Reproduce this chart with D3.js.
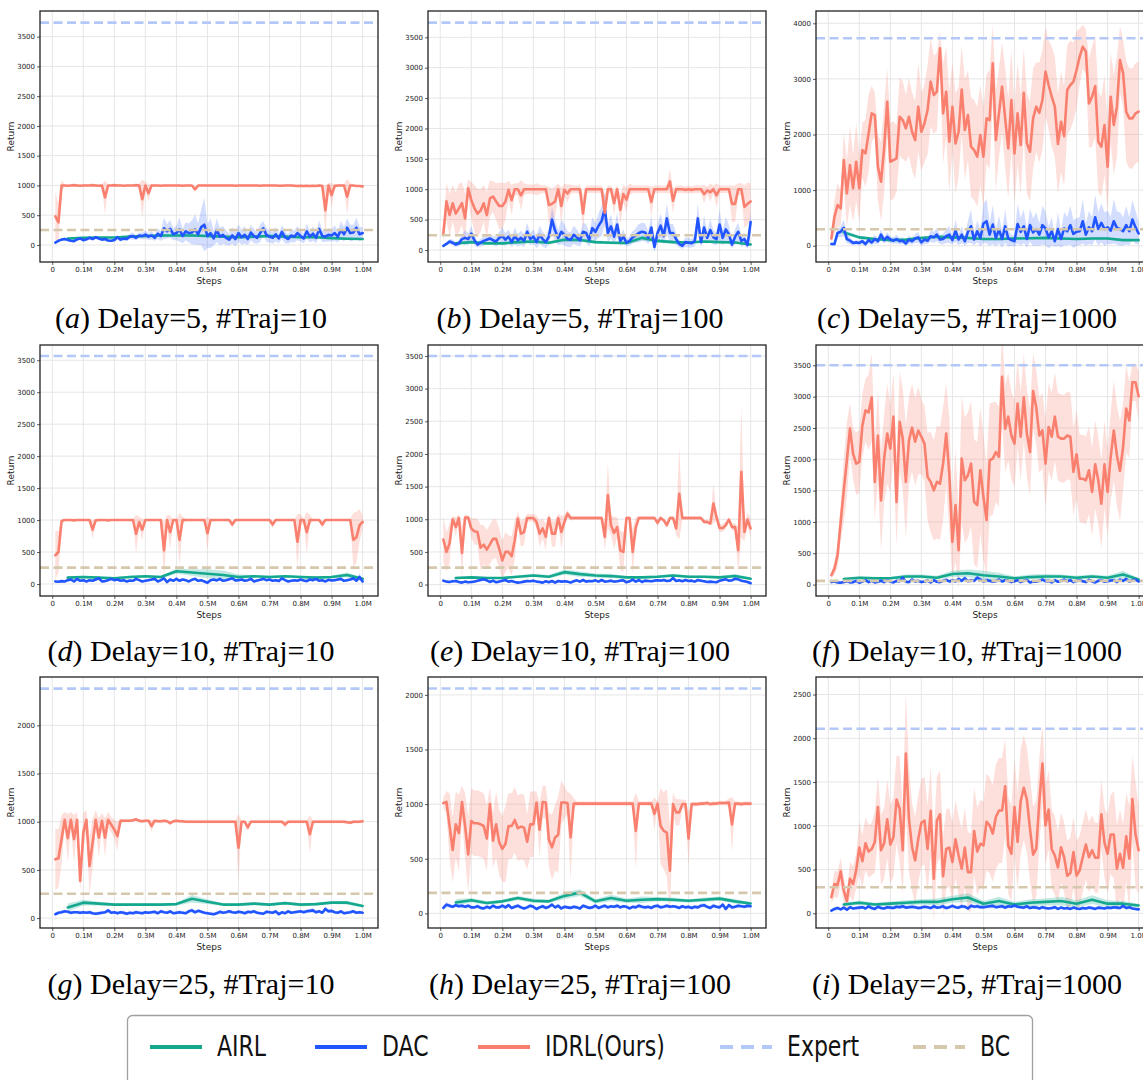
<!DOCTYPE html>
<html><head><meta charset="utf-8">
<script src="https://cdn.jsdelivr.net/npm/d3@7"></script>
<style>body{margin:0;background:#fff}svg{display:block}</style>
</head><body><svg id="chart" width="1143" height="1080"></svg>
<script>
// ---------------- DATA ----------------
const seriesNames = ["AIRL", "DAC", "IDRL(Ours)", "Expert", "BC"];
const xTickValues = [0,0.1,0.2,0.3,0.4,0.5,0.6,0.7,0.8,0.9,1.0];
const xTickLabels = ["0","0.1M","0.2M","0.3M","0.4M","0.5M","0.6M","0.7M","0.8M","0.9M","1.0M"];
const yTicks3500 = [0,500,1000,1500,2000,2500,3000,3500];
const yTicks4000 = [0,1000,2000,3000,4000];
const yTicks2000 = [0,500,1000,1500,2000];
const yTicks2500 = [0,500,1000,1500,2000,2500];
const captionLetters = ["a","b","c","d","e","f","g","h","i"];
const captionTexts = ["Delay=5, #Traj=10","Delay=5, #Traj=100","Delay=5, #Traj=1000",
  "Delay=10, #Traj=10","Delay=10, #Traj=100","Delay=10, #Traj=1000",
  "Delay=25, #Traj=10","Delay=25, #Traj=100","Delay=25, #Traj=1000"];
const expertValues = [3735, 3741, 3730, 3567, 3500, 3500, 2381, 2059, 2108];
const bcValues = [252, 242, 295, 256, 260, 60, 252, 188, 297];

// ---- (a) ----
const idrl_a = [480,380,1000,1000,995,1000,1005,1000,995,1000,
1000,1000,1005,1000,995,1000,800,1000,1000,1005,
1000,1000,995,1000,1000,1000,1005,1000,770,1000,
870,1000,1000,1000,995,1000,1000,1000,1000,1000,
1000,995,1000,1000,1000,935,1000,1000,1000,1000,
1000,1000,1000,1000,1000,1000,1000,1000,995,1000,
1000,1000,1000,1000,1000,1000,995,1000,1000,1000,
1000,1000,995,995,1000,1000,1000,995,990,995,
990,995,990,995,990,1000,990,580,1000,840,
990,1000,1000,1000,810,1000,1000,990,990,985];
const idrlSd_a = [400,320,90,20,15,15,15,15,15,15,
15,15,15,15,15,20,280,20,15,15,
15,15,15,15,15,15,15,30,330,60,
150,20,15,15,15,15,15,15,15,15,
15,15,15,15,15,40,15,15,15,15,
15,15,15,15,15,15,15,15,15,15,
15,15,15,15,15,15,15,15,15,15,
15,15,15,15,15,15,15,15,20,15,
20,15,20,15,20,15,30,420,40,200,
30,15,15,15,300,40,15,15,15,15];
const dac_a = [40,70,90,100,85,70,65,95,110,80,
95,120,100,130,110,90,100,75,70,85,
130,90,110,100,140,150,120,160,150,175,
140,160,120,190,150,280,230,270,180,200,
260,150,230,200,210,260,180,300,340,150,
200,110,250,140,170,120,90,160,100,200,
130,170,100,210,150,120,200,280,170,140,
120,180,110,220,130,100,160,140,200,150,
110,230,140,190,120,270,150,140,170,160,
200,140,250,180,290,200,210,290,180,200];
const dacSd_a = [15,20,20,25,20,20,20,25,25,20,
25,30,25,30,25,25,30,25,20,30,
40,30,40,35,50,60,40,50,60,70,
60,70,50,90,80,180,120,150,100,120,
200,120,150,160,200,250,180,300,450,200,
250,120,200,150,150,120,100,140,120,150,
120,150,100,130,120,100,150,120,120,100,
100,120,80,120,100,80,110,100,120,90,
80,130,100,120,90,140,100,90,110,100,
130,100,150,120,160,140,130,170,120,100];
const airl_a = [110,120,125,125,140,150,160,160,160,150,140,130,140,150,140,130,130,115,105,100];
const airlSd_a = [20,20,15,15,20,20,20,25,25,20,20,20,25,25,20,15,15,15,15,15];

// ---- (b) ----
const idrl_b = [275,800,575,770,600,685,770,520,1015,820,
690,600,650,770,575,850,880,800,725,725,
800,990,820,1000,1000,900,1000,1000,1000,1000,
1000,1000,1000,1000,740,760,800,1000,725,990,
930,1000,1000,1000,1000,600,1000,1000,1000,1000,
1000,1000,610,1000,1000,770,1000,660,920,830,
1000,1000,1000,1000,1000,1000,1000,790,1000,1000,
1000,1000,1000,1130,810,1000,1000,1000,990,1000,
990,1000,1000,1000,920,980,950,1000,900,1000,
1000,1000,1000,760,760,1000,1000,710,760,800];
const idrlSd_b = [150,300,350,300,350,400,350,400,150,300,
380,400,350,300,380,300,250,300,380,380,
300,150,250,100,100,250,100,80,80,80,
100,80,60,60,300,250,250,100,300,100,
150,80,60,60,80,300,60,60,60,60,
60,60,300,60,60,200,60,250,150,200,
100,60,60,60,60,60,60,250,60,60,
60,60,60,200,200,60,60,60,60,60,
60,60,60,60,150,60,150,60,200,60,
60,60,60,300,300,100,100,350,350,300];
const dac_b = [70,100,140,120,90,110,180,200,180,270,
160,90,120,150,170,190,160,140,200,230,
170,220,130,230,160,200,150,300,180,220,
130,250,180,130,220,500,320,200,300,250,
180,170,250,210,160,300,280,170,360,300,
400,480,680,280,390,220,420,150,220,120,
150,210,240,280,300,290,200,370,50,280,
400,230,520,280,280,180,100,70,130,120,
110,150,520,130,370,200,330,210,180,420,
200,340,260,90,220,300,150,180,80,460];
const dacSd_b = [20,30,40,50,40,50,80,120,100,120,
80,50,60,80,70,80,70,80,100,150,
100,120,80,140,100,120,100,150,100,120,
100,150,120,100,130,200,180,120,200,180,
130,120,150,130,100,150,150,120,180,150,
200,250,250,150,200,120,200,80,120,60,
80,100,120,150,150,150,100,200,80,150,
200,130,250,150,150,100,60,50,80,80,
70,90,250,80,200,100,180,120,100,250,
120,200,150,60,130,150,100,100,60,200];
const airl_b = [110,130,110,110,130,140,120,170,165,130,120,115,200,150,130,125,140,130,125,90];
const airlSd_b = [20,20,20,20,25,25,25,30,30,25,25,25,40,30,25,20,20,20,20,20];

// ---- (c) ----
const idrl_c = [130,520,730,670,1540,940,1450,1030,1510,1030,
1720,1660,2020,2380,2350,1420,1150,1750,2590,1510,
1540,1570,2320,2260,2110,2320,2050,1900,2500,2050,
2200,2440,2950,2710,2770,3550,2380,2770,1870,2500,
1840,2050,2810,2080,2350,1780,1720,1600,1990,1600,
2290,2260,3280,1900,2380,2860,2290,1750,2620,1660,
2380,1810,2750,1840,1690,2290,2500,2390,2620,3130,
2890,2680,2500,1830,2230,1970,2800,2890,2950,3160,
3400,3580,3490,2560,2680,2870,1870,1780,2170,1420,
2680,2170,2500,3340,3100,2410,2290,2290,2380,2410];
const idrlSd_c = [100,300,400,300,500,600,700,600,700,600,
500,600,700,500,400,600,700,800,600,700,
700,600,700,700,600,700,700,700,800,700,
700,800,800,700,700,300,900,800,900,800,
900,800,800,900,800,900,900,900,900,900,
800,900,700,900,800,800,900,900,900,900,
900,900,800,900,900,900,800,900,900,800,
800,900,900,900,900,900,800,800,700,700,
500,400,400,800,900,900,900,900,900,800,
800,900,900,600,600,900,900,900,900,900];
const dac_c = [30,30,230,250,320,120,90,50,60,50,
80,30,100,60,120,80,200,100,160,110,
90,120,80,90,40,110,80,130,150,60,
110,90,170,150,200,110,120,170,200,100,
270,110,200,80,250,350,110,260,140,400,
440,200,380,140,290,120,350,130,100,80,
390,250,350,120,370,240,300,200,370,310,
150,260,80,300,120,310,260,370,210,250,
260,440,200,330,260,510,300,410,300,330,
270,440,320,300,260,370,260,470,330,220];
const dacSd_c = [20,40,80,100,150,80,60,40,40,40,
60,40,60,50,80,60,100,60,80,60,
60,80,60,60,40,80,60,80,100,60,
80,60,100,100,120,80,100,120,150,80,
200,100,150,80,200,300,100,200,150,350,
400,200,350,150,250,150,300,150,100,100,
350,250,300,150,300,250,300,200,350,300,
200,250,100,300,150,300,250,350,250,250,
250,400,200,300,250,400,300,350,300,300,
250,400,300,300,250,350,250,350,300,200];
const airl_c = [240,150,120,100,110,140,160,150,140,120,120,130,135,140,130,120,130,130,100,100];
const airlSd_c = [40,30,20,20,20,25,25,25,25,20,20,20,20,20,20,20,20,20,15,15];

// ---- (d) ----
const idrl_d = [450,500,985,1000,1000,1000,995,1000,1000,1000,
1000,1000,850,995,1000,1000,1000,995,1000,1000,
1000,1000,1000,1000,1000,1000,785,970,850,1000,
1000,1000,1000,1000,1000,525,1000,810,1000,1000,
690,1000,1000,1000,1000,1000,1000,1000,1000,795,
1000,1000,1000,1000,1000,1000,1000,930,1000,1000,
1000,1000,1000,1000,1000,1000,1000,1000,1000,1000,
930,1000,1000,1000,1000,1000,1000,1000,660,1000,
1000,810,1000,1000,1000,1000,930,1000,1000,1000,
1000,1000,1000,1000,1000,1000,690,730,920,970];
const idrlSd_d = [380,330,20,15,15,15,15,15,15,15,
15,15,150,15,15,15,15,15,15,15,
15,15,15,15,15,15,300,80,170,15,
15,15,15,15,15,450,80,260,15,15,
420,60,15,15,15,15,15,15,15,260,
15,15,15,15,15,15,15,50,15,15,
15,15,15,15,15,15,15,15,15,15,
60,15,15,15,15,15,15,15,430,100,
15,320,80,15,15,15,60,15,15,15,
15,15,15,15,15,15,420,400,250,100];
const dac_d = [40,35,45,40,60,70,40,80,50,60,
40,60,50,70,90,40,45,60,80,60,
70,50,60,40,55,50,80,60,40,50,
60,70,80,40,60,90,30,70,50,80,
50,70,60,40,65,80,50,60,40,20,
60,70,55,80,50,60,75,90,55,60,
70,50,60,80,40,55,65,80,60,70,
50,60,45,90,60,40,50,60,50,70,
55,45,70,60,80,50,60,40,65,55,
60,70,80,50,60,70,90,50,110,40];
const dacSd_d = [15,15,20,15,20,25,15,20,15,20,
15,20,15,20,25,15,15,20,25,20,
20,15,20,15,15,15,25,20,15,15,
20,20,25,15,20,25,15,20,15,20,
15,20,20,15,20,25,15,20,15,15,
20,20,15,25,15,20,20,30,20,20,
20,15,20,25,15,15,20,25,20,20,
15,20,15,25,20,15,15,20,15,20,
20,15,20,20,25,15,20,15,20,15,
20,20,25,15,20,20,30,20,60,30];
const airl_d = [100,110,100,90,110,120,110,200,180,160,140,110,120,110,120,110,100,110,140,80];
const airlSd_d = [20,20,15,15,20,20,20,40,50,70,70,40,20,20,20,20,20,20,40,20];

// ---- (e) ----
const idrl_e = [690,500,630,1000,880,1020,485,1025,1025,860,
815,805,565,610,535,615,700,700,550,370,
500,500,435,680,1010,780,805,1020,1020,1020,
960,780,860,730,1020,780,780,1020,805,960,
1085,1020,1020,1020,1020,1020,1020,1020,1020,1020,
1020,1020,730,1370,910,790,880,525,500,1020,
1020,500,880,1020,1020,1020,1020,1020,1020,945,
1020,985,910,1020,1020,860,1390,1020,1020,1020,
1020,1020,1020,1020,960,960,935,1240,1035,865,
865,910,995,880,880,525,1725,805,995,860];
const idrlSd_e = [350,300,300,50,150,50,400,50,30,150,
200,200,350,300,300,300,300,300,300,300,
300,250,300,300,100,200,200,60,60,60,
100,200,150,200,60,200,200,60,250,100,
60,40,30,30,30,30,30,30,30,30,
30,30,200,500,150,250,150,300,300,30,
30,350,150,30,30,30,30,30,30,50,
30,30,50,30,30,100,700,30,30,30,
30,30,30,30,30,30,30,300,60,60,
60,60,30,50,60,350,1000,150,100,150];
const dac_e = [60,45,40,50,55,40,30,45,35,40,
45,60,70,80,65,40,60,35,45,60,
70,45,55,40,30,35,45,55,50,60,
45,40,30,50,35,55,30,55,45,50,
45,30,50,65,45,70,45,55,50,65,
45,70,45,50,60,45,50,60,65,35,
50,75,45,70,40,60,55,50,60,65,
60,70,55,60,100,55,65,50,70,55,
60,45,70,60,50,40,45,40,35,60,
70,80,60,65,90,80,60,50,40,20];
const dacSd_e = [20,15,15,20,15,20,15,20,15,20,
15,20,20,25,20,15,20,15,15,20,
20,15,20,15,15,15,20,20,15,20,
15,15,15,20,15,20,15,20,15,20,
15,15,20,20,15,20,15,20,15,20,
15,20,15,20,20,15,20,20,20,15,
20,20,15,20,15,20,20,15,20,20,
20,20,15,20,30,20,20,15,20,15,
20,15,20,20,15,15,15,15,15,20,
20,25,20,20,30,25,20,20,15,15];
const airl_e = [100,110,100,100,120,140,120,190,160,140,130,110,110,120,140,120,120,110,130,90];
const airlSd_e = [20,20,15,15,20,25,25,40,40,30,30,20,20,20,25,20,20,20,30,20];

// ---- (f) ----
const idrl_f = [150,255,470,1000,1505,1985,2490,2090,1930,1960,
2540,2780,2750,2990,1640,2380,1345,2010,2410,2170,
2680,1320,2600,2330,1640,2300,2505,2280,2460,2360,
2250,1720,1640,1505,1640,1610,1930,2410,1770,680,
1270,550,2010,1665,1745,1930,1320,1270,1825,1400,
1030,1985,2010,2115,2040,3315,2490,2680,2380,2250,
2890,2360,2990,2410,2115,3090,2835,2380,2460,1930,
2515,2360,2680,2360,2330,2330,2380,2360,1800,2080,
1690,1690,1665,1825,1480,1920,1665,1290,1920,1480,
2040,2460,2060,1815,2200,2810,2620,3230,3230,3005];
const idrlSd_f = [50,100,200,300,500,600,400,400,500,500,
500,500,600,700,600,700,800,700,800,700,
700,700,800,800,900,700,700,700,700,600,
600,700,800,800,900,900,900,800,900,600,
900,600,1000,1000,1000,1000,1000,1000,1000,1000,
900,900,900,800,800,700,700,700,700,700,
700,700,700,700,700,600,600,600,600,700,
700,700,700,700,700,700,700,700,700,700,
700,700,700,700,700,700,700,700,700,700,
700,800,800,800,700,700,600,300,300,400];
const dac_f = [40,50,35,30,40,55,35,40,60,30,
50,70,40,60,35,45,60,40,70,50,
35,60,55,110,45,40,80,50,60,40,
50,65,35,70,45,40,60,75,50,70,
50,90,60,100,55,70,60,110,80,50,
70,60,45,55,80,50,70,60,40,55,
70,40,60,75,35,50,45,60,80,55,
60,35,70,45,60,80,55,70,40,60,
70,55,40,75,50,35,60,70,45,55,
65,70,40,80,60,90,50,70,80,50];
const dacSd_f = [20,25,20,20,25,30,20,25,30,20,
25,30,25,30,20,25,30,25,30,25,
20,30,25,40,25,20,35,25,30,20,
25,30,20,30,25,20,30,35,25,30,
25,40,30,40,30,35,30,40,35,25,
35,30,25,30,35,25,30,30,20,25,
30,20,25,30,20,25,20,30,35,25,
30,20,30,25,30,35,25,30,20,30,
30,25,20,35,25,20,30,30,25,25,
30,30,20,35,30,40,25,30,35,25];
const airl_f = [90,110,100,100,130,130,110,170,180,150,130,100,120,130,130,110,130,110,160,80];
const airlSd_f = [20,20,20,20,30,30,30,50,60,70,60,30,40,40,30,30,30,30,60,20];

// ---- (g) ----
const idrl_g = [610,620,820,1020,830,1020,820,1020,385,890,
1020,540,780,1020,835,1010,835,1020,970,920,
850,1010,1010,1010,1010,1015,1025,1010,1005,1010,
1010,955,1010,1005,1005,1010,1005,985,1005,1010,
1005,1005,1000,1000,1000,1000,1000,1000,1000,1000,
1000,1000,1000,1000,1000,1000,1000,1000,1000,730,
1000,1000,940,1000,1000,1000,1000,1000,1000,1000,
1000,1000,1000,1000,970,1000,1000,1000,1000,1000,
1000,1000,870,1000,1000,1000,1000,1000,1000,1000,
1000,1000,1000,1000,995,990,1000,1000,1000,1005];
const idrlSd_g = [320,300,250,80,250,80,250,80,100,200,
100,300,250,100,200,80,200,80,80,100,
150,20,15,15,15,15,15,15,15,15,
15,60,15,15,15,15,15,20,15,15,
15,15,15,15,15,15,15,15,15,15,
15,15,15,15,15,15,15,15,15,350,
15,15,40,15,15,15,15,15,15,15,
15,15,15,15,30,15,15,15,15,15,
15,15,200,15,15,15,15,15,15,15,
15,15,15,15,15,20,15,15,15,15];
const dac_g = [40,55,60,70,65,55,60,60,55,60,
55,60,50,45,50,55,60,80,55,60,
50,60,55,45,55,50,60,55,50,60,
55,60,65,50,70,60,55,70,50,55,
60,55,50,70,80,60,75,65,55,50,
45,40,50,65,55,60,70,60,55,65,
60,50,65,60,70,55,50,45,65,60,
55,70,40,60,50,70,55,60,65,70,
60,70,75,80,60,70,55,95,70,75,
60,55,70,50,55,60,70,55,60,55];
const dacSd_g = [15,15,20,15,15,20,15,15,20,15,
15,20,15,15,20,15,15,20,15,15,
15,15,20,15,15,15,20,15,15,15,
15,15,20,15,20,15,15,20,15,15,
20,15,15,20,25,15,20,15,15,15,
15,15,15,20,15,15,20,15,15,20,
15,15,20,15,20,15,15,15,20,15,
15,20,15,15,15,20,15,15,20,15,
15,20,20,25,15,20,15,25,20,20,
15,15,20,15,15,15,20,15,15,15];
const airl_g = [110,160,150,140,140,140,140,145,200,170,140,140,150,140,155,140,145,160,160,125];
const airlSd_g = [40,30,20,15,15,15,15,15,40,25,15,15,15,15,15,15,15,15,20,15];

// ---- (h) ----
const idrl_h = [1010,1020,800,580,815,735,1020,800,540,845,
825,825,815,800,685,1000,665,815,650,590,
635,800,800,855,780,795,785,655,815,815,
1015,765,1020,1015,675,605,695,720,1015,1015,
1010,695,1005,1005,1005,1005,1005,1005,1005,1005,
1005,1005,1005,1005,1005,1005,1005,1005,1005,1005,
1005,1005,755,1005,1005,1005,1005,1005,910,1005,
800,755,740,390,1000,925,925,1000,1000,685,
1000,1000,1000,1005,1005,1010,1000,1005,1005,1010,
1010,1010,1015,815,1005,1005,1000,1005,1005,1005];
const idrlSd_h = [50,100,300,300,300,350,150,300,350,300,
300,300,300,300,300,150,250,300,300,300,
350,300,300,300,300,300,300,250,300,300,
100,250,150,150,250,300,300,350,200,150,
100,400,50,20,20,20,20,20,20,20,
20,20,20,20,20,20,20,20,20,20,
20,20,350,20,20,20,20,20,150,20,
350,350,400,420,100,120,120,40,40,250,
20,20,20,20,20,20,20,20,20,20,
20,20,40,250,20,20,20,20,20,20];
const dac_h = [50,80,70,60,75,65,70,60,70,55,
55,65,50,45,60,50,70,55,55,70,
55,75,50,60,70,55,45,55,70,60,
40,55,65,50,60,80,55,70,45,60,
55,50,60,55,45,70,60,50,55,70,
50,60,70,55,65,60,70,55,65,60,
45,60,55,70,60,55,60,50,65,70,
55,60,70,60,65,60,50,65,55,60,
50,60,55,70,75,60,50,70,60,55,
80,40,75,55,60,70,65,60,70,65];
const dacSd_h = [20,25,20,15,20,15,20,15,20,15,
15,20,15,15,20,15,20,15,15,20,
15,20,15,15,20,15,15,15,20,15,
15,15,20,15,15,20,15,20,15,15,
15,15,15,15,15,20,15,15,15,20,
15,15,20,15,15,15,20,15,15,15,
15,15,15,20,15,15,15,15,15,20,
15,15,20,15,15,15,15,15,15,15,
15,15,15,20,20,15,15,20,15,15,
20,15,20,15,15,20,15,15,20,15];
const airl_h = [100,120,95,110,140,115,110,160,190,110,140,115,125,130,125,115,125,135,110,90];
const airlSd_h = [30,20,15,15,20,20,15,30,30,20,30,20,30,20,20,15,20,20,20,15];

// ---- (i) ----
const idrl_i = [185,335,325,480,260,140,395,335,490,750,
595,800,705,735,815,1215,720,800,1075,785,
870,1300,1195,720,1825,1080,755,605,850,1035,
1060,735,1170,395,1060,1130,425,735,750,585,
845,660,510,750,470,470,940,705,795,775,
1045,1005,910,1100,1175,1175,1450,775,680,1215,
815,1280,1435,1300,965,670,735,1270,1710,1005,
1185,735,660,525,755,640,430,460,700,430,
490,640,785,640,720,635,635,1130,805,680,
900,900,510,680,520,880,625,1305,900,720];
const idrlSd_i = [80,150,150,150,150,100,200,200,200,300,
300,300,300,300,350,350,400,400,450,450,
450,500,600,500,700,600,500,500,500,500,
500,500,500,500,500,500,450,450,450,450,
450,450,450,450,450,450,500,500,500,500,
550,550,550,600,600,600,550,550,550,550,
550,600,600,600,600,550,550,500,450,450,
450,450,450,400,400,400,400,400,400,400,
400,400,400,400,400,400,400,400,400,450,
450,500,500,500,500,500,600,500,600,500];
const dac_i = [30,50,60,45,65,40,70,55,60,65,
70,55,80,60,50,75,60,55,70,65,
60,75,70,80,65,70,75,70,60,65,
75,70,60,80,65,70,80,60,70,85,
70,65,80,75,55,85,75,80,70,70,
75,80,85,70,75,80,65,80,75,90,
75,70,65,80,60,70,65,55,70,60,
55,60,70,50,65,55,60,50,65,55,
50,60,55,65,60,50,65,60,55,65,
60,70,65,60,85,60,70,55,50,45];
const dacSd_i = [15,20,20,15,20,15,20,15,20,20,
20,15,25,20,15,20,20,15,20,20,
20,20,25,25,20,20,25,20,20,20,
20,20,20,25,20,20,25,20,20,25,
20,20,25,20,20,25,20,25,20,20,
20,25,25,20,20,25,20,25,20,25,
20,20,20,25,20,20,20,15,20,20,
15,20,20,15,20,15,20,15,20,15,
15,20,15,20,20,15,20,20,15,20,
20,20,20,20,25,20,20,15,15,15];
const airl_i = [100,120,100,110,120,130,130,160,180,110,140,100,120,130,140,110,155,110,110,90];
const airlSd_i = [20,25,20,25,30,30,40,40,50,30,50,30,40,40,50,40,50,40,30,20];

const idrlAll = [idrl_a, idrl_b, idrl_c, idrl_d, idrl_e, idrl_f, idrl_g, idrl_h, idrl_i];
const idrlSdAll = [idrlSd_a, idrlSd_b, idrlSd_c, idrlSd_d, idrlSd_e, idrlSd_f, idrlSd_g, idrlSd_h, idrlSd_i];
const dacAll = [dac_a, dac_b, dac_c, dac_d, dac_e, dac_f, dac_g, dac_h, dac_i];
const dacSdAll = [dacSd_a, dacSd_b, dacSd_c, dacSd_d, dacSd_e, dacSd_f, dacSd_g, dacSd_h, dacSd_i];
const airlAll = [airl_a, airl_b, airl_c, airl_d, airl_e, airl_f, airl_g, airl_h, airl_i];
const airlSdAll = [airlSd_a, airlSd_b, airlSd_c, airlSd_d, airlSd_e, airlSd_f, airlSd_g, airlSd_h, airlSd_i];
const yTicksAll = [yTicks3500, yTicks3500, yTicks4000, yTicks3500, yTicks3500, yTicks3500, yTicks2000, yTicks2000, yTicks2500];

// x positions of logged points (steps, in millions)
const stepsFine = d3.range(1, 101).map(k => k / 100);
const stepsCoarse = d3.range(1, 21).map(k => k * 0.05);

// ---------------- LAYOUT / STYLE ----------------
const colors = {airl: "#14a98f", dac: "#2155ff", idrl: "#f9806f", expert: "#b4c7f9", bc: "#d6c8ad"};
const W = 338, H = 251;
const colLeft = [40, 428, 816];
const rowTop = [11, 345, 677];
const yDomains = [[-286, 3931], [-197, 3933], [-293, 4221], [-188, 3739], [-175, 3668], [-182, 3824], [-103, 2502], [-134, 2164], [-168, 2700]];
const xDomain = [-0.0395, 1.0495];
const captionCenter = [191, 580, 967];
const captionBase = [328, 661, 994];

const svg = d3.select("#chart");
const defs = svg.append("defs");

for (let i = 0; i < 9; i++) {
  const c = i % 3, r = Math.floor(i / 3);
  const left = colLeft[c], top = rowTop[r];
  const x = d3.scaleLinear().domain(xDomain).range([left, left + W]);
  const y = d3.scaleLinear().domain(yDomains[i]).range([top + H, top]);
  const g = svg.append("g");

  defs.append("clipPath").attr("id", "clip" + i).append("rect")
    .attr("x", left).attr("y", top).attr("width", W).attr("height", H);

  // grid
  g.append("g").selectAll("line").data(xTickValues).join("line")
    .attr("x1", d => x(d)).attr("x2", d => x(d)).attr("y1", top).attr("y2", top + H)
    .attr("stroke", "#e3e3e3").attr("stroke-width", 0.9);
  g.append("g").selectAll("line").data(yTicksAll[i]).join("line")
    .attr("x1", left).attr("x2", left + W).attr("y1", d => y(d)).attr("y2", d => y(d))
    .attr("stroke", "#e3e3e3").attr("stroke-width", 0.9);

  const plot = g.append("g").attr("clip-path", `url(#clip${i})`);

  function band(steps, mean, sd, color, op) {
    const area = d3.area()
      .x((d, k) => x(steps[k]))
      .y0((d, k) => y(mean[k] - sd[k]))
      .y1((d, k) => y(mean[k] + sd[k]));
    plot.append("path").datum(mean).attr("d", area).attr("fill", color).attr("fill-opacity", op).attr("stroke", "none");
  }
  function line(steps, mean, color) {
    const ln = d3.line().x((d, k) => x(steps[k])).y(d => y(d));
    plot.append("path").datum(mean).attr("d", ln).attr("fill", "none")
      .attr("stroke", color).attr("stroke-width", 2.6).attr("stroke-linejoin", "round").attr("stroke-linecap", "round");
  }
  band(stepsFine, idrlAll[i], idrlSdAll[i], colors.idrl, 0.25);
  band(stepsFine, dacAll[i], dacSdAll[i], colors.dac, 0.2);
  band(stepsCoarse, airlAll[i], airlSdAll[i], colors.airl, 0.25);
  line(stepsCoarse, airlAll[i], colors.airl);
  line(stepsFine, dacAll[i], colors.dac);
  line(stepsFine, idrlAll[i], colors.idrl);

  // expert & BC
  [[expertValues[i], colors.expert], [bcValues[i], colors.bc]].forEach(([v, col]) => {
    plot.append("line").attr("x1", left).attr("x2", left + W)
      .attr("y1", y(v)).attr("y2", y(v))
      .attr("stroke", col).attr("stroke-width", 2.6).attr("stroke-dasharray", "9,4.5");
  });

  // axes
  const xAxis = d3.axisBottom(x).tickValues(xTickValues).tickFormat((d, k) => xTickLabels[k]).tickSize(3).tickPadding(2);
  const gx = g.append("g").attr("transform", `translate(0,${top + H})`).call(xAxis);
  const yAxis = d3.axisLeft(y).tickValues(yTicksAll[i]).tickFormat(d => String(d)).tickSize(3).tickPadding(2);
  const gy = g.append("g").attr("transform", `translate(${left},0)`).call(yAxis);
  [gx, gy].forEach(a => {
    a.select(".domain").remove();
    a.selectAll(".tick line").attr("stroke", "#333").attr("stroke-width", 0.8);
    a.selectAll(".tick text").attr("fill", "#222").style("font-family", "DejaVu Sans").style("font-size", "7px");
  });

  // frame
  g.append("rect").attr("x", left).attr("y", top).attr("width", W).attr("height", H)
    .attr("fill", "none").attr("stroke", "#222").attr("stroke-width", 1.3);

  // labels
  g.append("text").attr("x", left + W / 2).attr("y", top + H + 22)
    .attr("text-anchor", "middle").style("font-family", "DejaVu Sans").style("font-size", "9px").attr("fill", "#222").text("Steps");
  g.append("text").attr("transform", `translate(${left - 26},${top + H / 2}) rotate(-90)`)
    .attr("text-anchor", "middle").style("font-family", "DejaVu Sans").style("font-size", "9px").attr("fill", "#222").text("Return");

  // caption
  const cap = svg.append("text").attr("x", captionCenter[c]).attr("y", captionBase[r])
    .attr("text-anchor", "middle").style("font-family", "Liberation Serif").style("font-size", "30px").attr("fill", "#000");
  cap.append("tspan").text("(");
  cap.append("tspan").style("font-style", "italic").text(captionLetters[i]);
  cap.append("tspan").text(") " + captionTexts[i]);
}

// ---------------- LEGEND ----------------
const lg = svg.append("g");
lg.append("rect").attr("x", 127.5).attr("y", 1015.5).attr("width", 905).attr("height", 80).attr("rx", 5)
  .attr("fill", "#fff").attr("stroke", "#a0a0a0").attr("stroke-width", 1.3);
const legendItems = [
  {name: seriesNames[0], color: colors.airl, dash: null, x: 150},
  {name: seriesNames[1], color: colors.dac, dash: null, x: 315},
  {name: seriesNames[2], color: colors.idrl, dash: null, x: 478},
  {name: seriesNames[3], color: colors.expert, dash: "13,8", x: 720},
  {name: seriesNames[4], color: colors.bc, dash: "13,8", x: 913}
];
legendItems.forEach(it => {
  lg.append("line").attr("x1", it.x).attr("x2", it.x + 52).attr("y1", 1047).attr("y2", 1047)
    .attr("stroke", it.color).attr("stroke-width", 4).attr("stroke-dasharray", it.dash);
  lg.append("text").attr("transform", `translate(${it.x + 67},1056) scale(1,1.25)`)
    .style("font-family", "DejaVu Sans").style("font-size", "22px").attr("fill", "#111").text(it.name);
});
</script>
</body></html>
